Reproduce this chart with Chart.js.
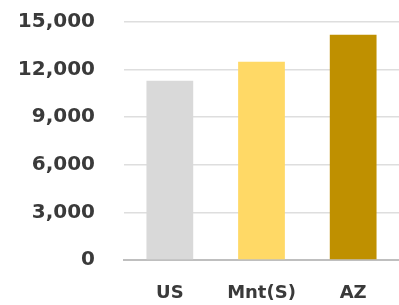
<!DOCTYPE html>
<html>
<head>
<meta charset="utf-8">
<script src="https://cdn.jsdelivr.net/npm/chart.js@4/dist/chart.umd.min.js"></script>
<style>
html,body{margin:0;padding:0;background:#fff;}
#wrap{width:399px;height:305px;position:relative;}
</style>
</head>
<body>
<div id="wrap"><canvas id="c" width="399" height="305"></canvas></div>
<script>
const categories = ["US", "Mnt(S)", "AZ"];
const values = [11300, 12500, 14200];
const barColors = ["#D9D9D9", "#FFD966", "#BF9000"];
const yTicks = [0, 3000, 6000, 9000, 12000, 15000];

new Chart(document.getElementById('c'), {
  type: 'bar',
  data: {
    labels: categories,
    datasets: [{
      data: values,
      backgroundColor: barColors,
      borderWidth: 0,
      categoryPercentage: 1,
      barPercentage: 0.51
    }]
  },
  options: {
    responsive: false,
    animation: false,
    plugins: { legend: { display: false }, tooltip: { enabled: false } },
    layout: { padding: { top: 22, right: 0, left: 0, bottom: 0 } },
    scales: {
      x: {
        grid: { display: false, drawTicks: false },
        border: { display: true, color: '#BFBFBF', width: 2 },
        ticks: {
          color: '#3A3A3A',
          font: { family: 'DejaVu Sans', size: 18, weight: 'bold' },
          padding: 23,
          maxRotation: 0
        },
        afterFit: s => { s.height = 45; }
      },
      y: {
        min: 0, max: 15000,
        afterBuildTicks: s => { s.ticks = yTicks.map(v => ({ value: v })); },
        grid: {
          drawTicks: true,
          tickLength: 28,
          tickColor: 'rgba(0,0,0,0)',
          color: ctx => ctx.tick && ctx.tick.value === 0 ? 'rgba(0,0,0,0)' : '#DEDEDE',
          lineWidth: 1.5
        },
        border: { display: false },
        ticks: {
          color: '#3A3A3A',
          font: { family: 'DejaVu Sans', size: 20, weight: 'bold' },
          padding: 1,
          callback: v => v.toLocaleString('en-US')
        },
        afterFit: s => { s.width = 124; }
      }
    }
  }
});
</script>
</body>
</html>
